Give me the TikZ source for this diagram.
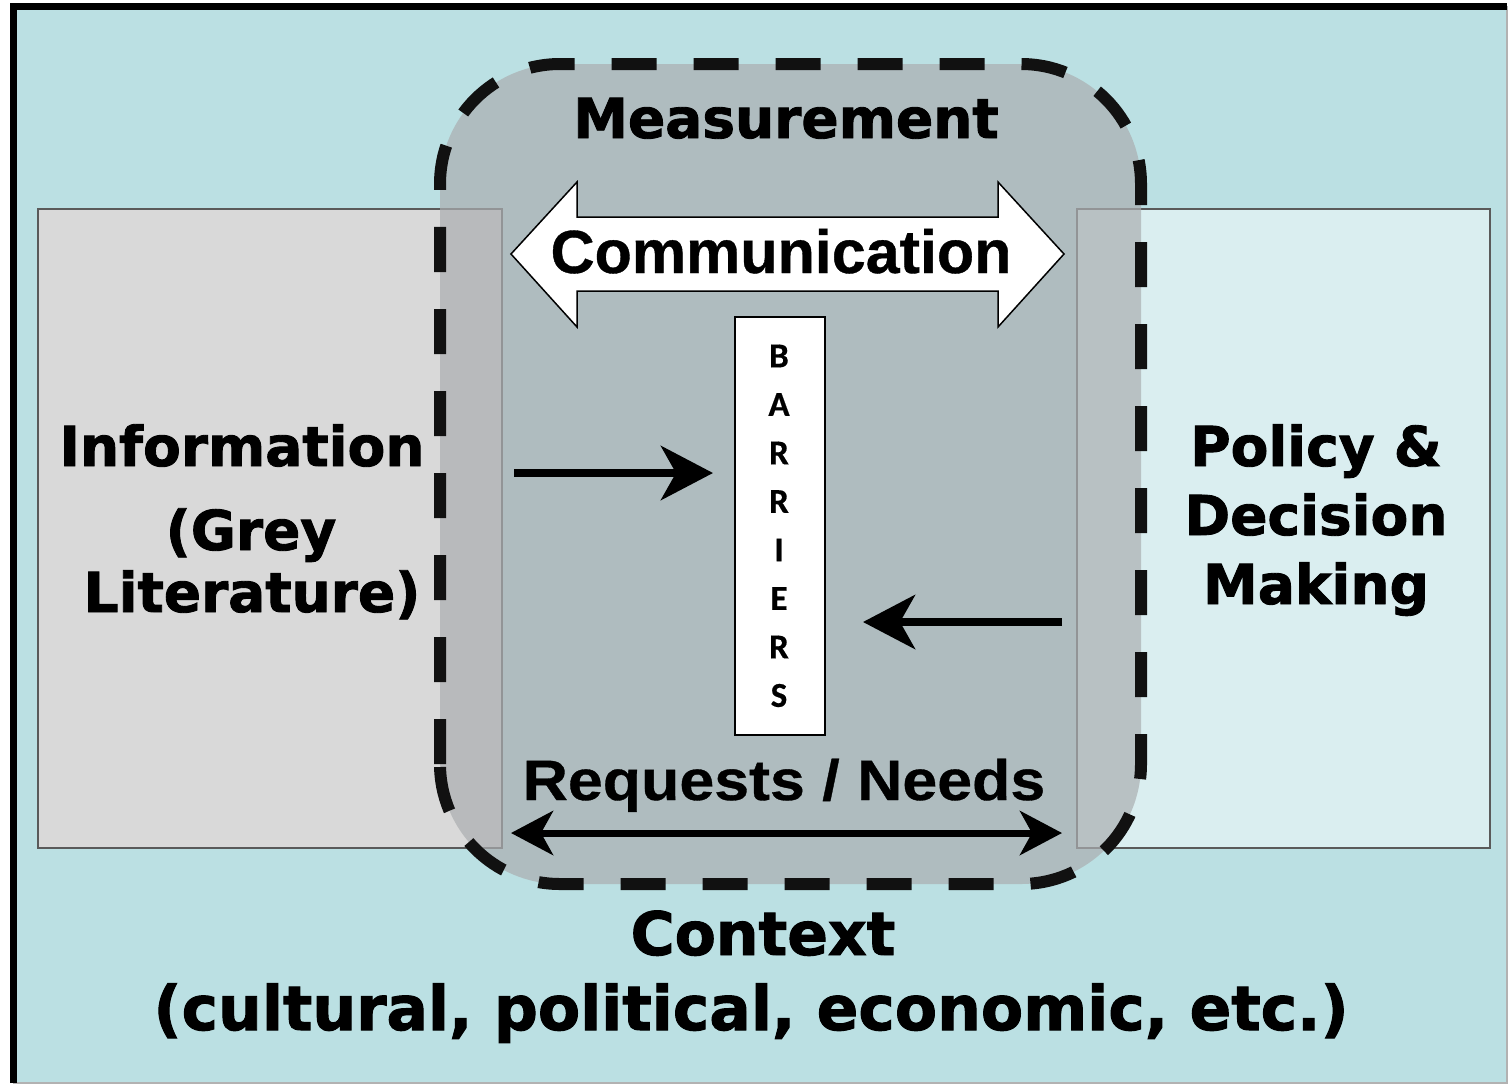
\documentclass[tikz,border=0pt]{standalone}
\usepackage{fontspec}
\setmainfont{Liberation Sans}
\newfontfamily\heavyfont{DejaVu Sans}[FakeBold=1.6]
\newfontfamily\arialfont{Liberation Sans}[FakeBold=0.6]
\newfontfamily\arialwide{Liberation Sans}[FakeStretch=1.1,FakeBold=0.6]
\newfontfamily\califont{Carlito}[FakeBold=0.5]
\usetikzlibrary{arrows.meta}
\definecolor{bgblue}{HTML}{BBE0E3}
\definecolor{leftgray}{HTML}{D9D9D9}
\definecolor{rightblue}{HTML}{DAEEF0}
\definecolor{overlaygray}{RGB}{170,174,176}
\definecolor{boxline}{HTML}{5A5A5A}
\definecolor{dashblack}{HTML}{111111}
\begin{document}
\begin{tikzpicture}[x=1bp,y=-1bp,
  heavy/.style={font=\heavyfont\bfseries\fontsize{55bp}{60bp}\selectfont, anchor=base, inner sep=0pt},
  heavybig/.style={font=\heavyfont\bfseries\fontsize{60bp}{65bp}\selectfont, anchor=base, inner sep=0pt},
  heavywide/.style={font=\heavyfont\bfseries\fontsize{61.5bp}{66bp}\selectfont, anchor=base, inner sep=0pt},
  arialtext/.style={font=\arialfont\bfseries\fontsize{61bp}{66bp}\selectfont, anchor=base, inner sep=0pt},
  arialwidetext/.style={font=\arialwide\bfseries\fontsize{57bp}{62bp}\selectfont, anchor=base, inner sep=0pt},
  barletter/.style={font=\califont\bfseries\fontsize{35bp}{37bp}\selectfont, inner sep=0pt},
  sidebox/.style={draw=boxline, line width=1.5bp, inner sep=0pt},
  bigarrow/.style={line width=8bp, -{Stealth[length=52bp,width=54bp,inset=15bp]}},
  reqarrow/.style={line width=7bp, {Stealth[length=42bp,width=44bp,inset=12bp]}-{Stealth[length=42bp,width=44bp,inset=12bp]}},
  zoneline/.style={draw=dashblack, line width=12bp, dash pattern=on 45bp off 37bp},
]
\useasboundingbox (0,0) rectangle (1510,1085);
\fill[white] (0,0) rectangle (1510,1085);
% frame
\fill[bgblue] (13,6) rectangle (1507,1083);
\draw[line width=1.2bp, gray!60] (1507,6) -- (1507,1083) -- (13,1083);
\draw[line width=7bp, black] (13.5,1083) -- (13.5,6) -- (1507,6);

% side boxes
\node[sidebox, fill=leftgray, minimum width=464bp, minimum height=639bp] (infobox) at (270,528.5) {};
\node[sidebox, fill=rightblue, minimum width=413bp, minimum height=639bp] (policybox) at (1283.5,528.5) {};

% central zone
\fill[overlaygray, fill opacity=0.7, rounded corners=120bp] (440,64) rectangle (1141,884);
\draw[zoneline, rounded corners=120bp] (440,884) rectangle (1141,64);

% communication arrow
\draw[fill=white, line width=1.5bp, line join=miter]
  (511,254) -- (577,182) -- (577,217) -- (998,217) -- (998,182) -- (1064,254)
  -- (998,327) -- (998,291) -- (577,291) -- (577,327) -- cycle;
\node[arialtext] (comm) at (781,273) {Communication};

% texts
\node[heavy] (meas) at (786,138) {Measurement};
\node[heavy] (info1) at (242,466) {Information};
\node[heavy] (info2) at (251,550) {(Grey};
\node[heavy] (info3) at (252,612) {Literature)};
\node[heavy] (pol1) at (1316,466) {Policy \&};
\node[heavy] (pol2) at (1316,535) {Decision};
\node[heavy] (pol3) at (1316,604) {Making};
\node[heavybig] (ctx1) at (763,955) {Context};
\node[heavywide] (ctx2) at (751,1030) {(cultural, political, economic, etc.)};
\node[arialwidetext] (req) at (784,800) {Requests / Needs};

% barriers
\node[draw, fill=white, line width=1.5bp, minimum width=90bp, minimum height=418bp, inner sep=0pt] (barriers) at (780,526) {};
\foreach \L [count=\i from 0] in {B,A,R,R,I,E,R,S}
  \node[barletter] (bl\i) at (779,{356+48.5*\i}) {\L};

% arrows
\coordinate (inS) at (514,473);
\coordinate (inE) at (713,473);
\coordinate (outS) at (1062,622);
\coordinate (outE) at (863,622);
\coordinate (reqL) at (511,833);
\coordinate (reqR) at (1062,833);
\draw[bigarrow] (inS) -- (inE);
\draw[bigarrow] (outS) -- (outE);
\draw[reqarrow] (reqL) -- (reqR);
\end{tikzpicture}
\end{document}
